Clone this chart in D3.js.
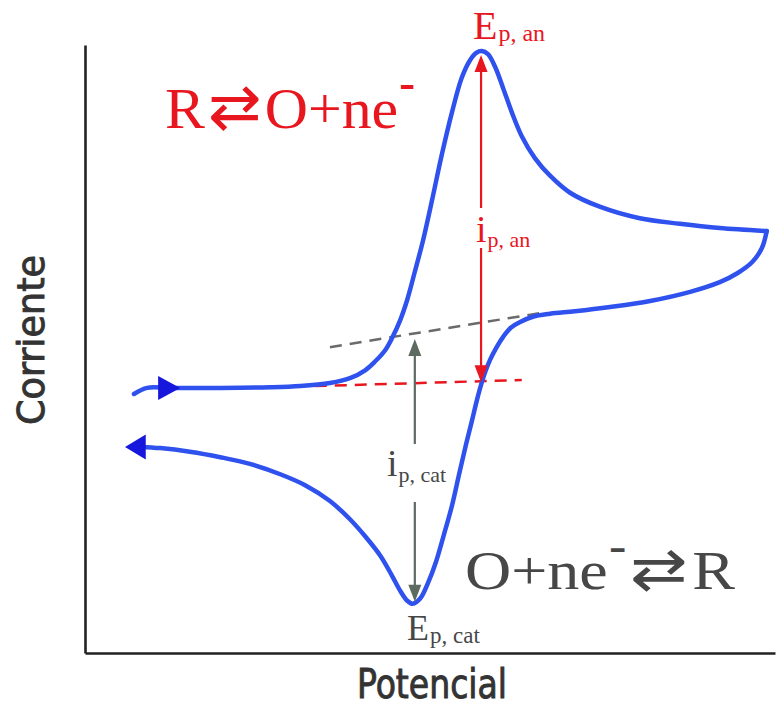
<!DOCTYPE html>
<html>
<head>
<meta charset="utf-8">
<script src="https://cdn.jsdelivr.net/npm/d3@7"></script>
<style>
  html, body { margin: 0; padding: 0; background: #fff; }
  svg { display: block; }
</style>
</head>
<body>
<svg id="chart" width="779" height="708"></svg>
<script>
// Cyclic voltammogram of a reversible couple R ⇄ O + ne⁻
// Potential in V, current in µA (arbitrary reference).

// Forward (anodic) scan
const potencialFwd = [-0.329, -0.310, -0.277, -0.204, -0.132, -0.088, -0.045, -0.016, 0.006, 0.020,
  0.035, 0.045, 0.057, 0.067, 0.078, 0.090, 0.103, 0.117, 0.132, 0.146,
  0.158, 0.167, 0.175, 0.184, 0.194, 0.206, 0.219, 0.233, 0.252, 0.274,
  0.303, 0.346, 0.404, 0.462, 0.520, 0.588];
const corrienteFwd = [2.6, 3.6, 3.6, 3.6, 3.7, 3.9, 4.4, 5.2, 6.5, 7.9,
  9.8, 11.8, 14.8, 18.1, 22.7, 27.9, 34.5, 41.9, 49.0, 54.6,
  57.5, 58.7, 59.0, 58.5, 56.5, 52.9, 48.8, 45.0, 41.4, 38.5,
  35.7, 33.4, 31.5, 30.6, 29.9, 29.4];

// Reverse (cathodic) scan
const potencialRev = [0.588, 0.581, 0.567, 0.546, 0.520, 0.477, 0.419, 0.361, 0.310, 0.274,
  0.249, 0.230, 0.217, 0.206, 0.196, 0.187, 0.180, 0.174, 0.168, 0.161,
  0.152, 0.142, 0.132, 0.120, 0.109, 0.097, 0.086, 0.075, 0.067, 0.057,
  0.045, 0.028, 0.006, -0.016, -0.045, -0.081, -0.117, -0.161, -0.204, -0.248,
  -0.291, -0.320];
const corrienteRev = [29.4, 26.6, 24.3, 22.5, 21.0, 19.4, 17.9, 16.9, 16.2, 15.8,
  15.3, 14.4, 13.5, 12.0, 10.2, 8.2, 6.2, 4.1, 1.6, -1.7,
  -5.8, -10.7, -15.7, -20.6, -24.9, -28.5, -31.0, -31.9, -31.4, -29.8,
  -27.3, -24.0, -20.8, -18.0, -15.0, -12.4, -10.6, -8.9, -7.8, -6.9,
  -6.3, -6.1];

// Scan-direction arrowheads: [tip potential, base potential, current]
const flechaFwd = [-0.262, -0.294, 3.6];
const flechaRev = [-0.342, -0.312, -6.1];

// Extrapolated baselines used to measure the peak currents
const baseCatE = [-0.045, 0.259];
const baseCatI = [10.3, 15.9];
const baseAnE  = [-0.067, 0.233];
const baseAnI  = [3.9, 4.9];

// Peak markers: potential, peak current, baseline current
const picoAn  = { E: 0.174, ip: 59.0, base: 4.7 };
const picoCat = { E: 0.078, ip: -31.9, base: 11.8 };

const svg = d3.select("#chart");
const x = d3.scaleLinear().domain([-0.4, 0.6]).range([85, 775]);
const y = d3.scaleLinear().domain([-40, 60]).range([653, 45]);

const BLUE = "#2f52ee", BLUE_DARK = "#1616dc", RED = "#e8161e",
      GREY_TXT = "#474747", GREY_ARROW = "#5d6a60", GREY_DASH = "#6a6a6a";

// Axes without ticks
svg.append("g").attr("transform", `translate(${x.range()[0]},0)`)
  .call(d3.axisLeft(y).ticks(0).tickSizeOuter(0))
  .select(".domain").attr("stroke", "#222").attr("stroke-width", 2.6);
svg.append("g").attr("transform", `translate(0,${y.range()[0]})`)
  .call(d3.axisBottom(x).ticks(0).tickSizeOuter(0))
  .select(".domain").attr("stroke", "#222").attr("stroke-width", 2.6);

// Axis titles
svg.append("text")
  .attr("transform", "translate(44,340) rotate(-90)")
  .attr("text-anchor", "middle")
  .attr("font-family", "DejaVu Sans Condensed, DejaVu Sans")
  .attr("font-size", 38)
  .attr("fill", "#333").attr("stroke", "#333").attr("stroke-width", 0.9)
  .attr("textLength", 170).attr("lengthAdjust", "spacingAndGlyphs")
  .text("Corriente");
svg.append("text")
  .attr("x", 432).attr("y", 698)
  .attr("text-anchor", "middle")
  .attr("font-family", "DejaVu Sans Condensed, DejaVu Sans")
  .attr("font-size", 40)
  .attr("fill", "#333").attr("stroke", "#333").attr("stroke-width", 0.9)
  .attr("textLength", 150).attr("lengthAdjust", "spacingAndGlyphs")
  .text("Potencial");

// Baselines
const seg = (E, I) => d3.line()([[x(E[0]), y(I[0])], [x(E[1]), y(I[1])]]);
svg.append("path").attr("d", seg(baseCatE, baseCatI))
  .attr("stroke", GREY_DASH).attr("stroke-width", 2.5).attr("fill", "none")
  .attr("stroke-dasharray", "12,8");
svg.append("path").attr("d", seg(baseAnE, baseAnI))
  .attr("stroke", RED).attr("stroke-width", 2.5).attr("fill", "none")
  .attr("stroke-dasharray", "12,8");

// Voltammogram
const line = d3.line().x(d => x(d[0])).y(d => y(d[1])).curve(d3.curveCatmullRom.alpha(0.5));
const fwd = potencialFwd.map((e, i) => [e, corrienteFwd[i]]);
const rev = potencialRev.map((e, i) => [e, corrienteRev[i]]);
[fwd, rev].forEach(pts => {
  svg.append("path").attr("d", line(pts))
    .attr("fill", "none").attr("stroke", BLUE).attr("stroke-width", 4.5)
    .attr("stroke-linecap", "round").attr("stroke-linejoin", "miter");
});

// Scan direction arrowheads
function headH(tipE, baseE, I, half, color) {
  const xt = x(tipE), xb = x(baseE), yy = y(I);
  svg.append("path")
    .attr("d", `M${xt},${yy}L${xb},${yy - half}L${xb},${yy + half}Z`)
    .attr("fill", color);
}
headH(flechaFwd[0], flechaFwd[1], flechaFwd[2], 12, BLUE_DARK);
headH(flechaRev[0], flechaRev[1], flechaRev[2], 12.5, BLUE_DARK);

// Vertical peak-current arrows with a gap for the label
function vArrow(E, yTip1, yTip2, gapTop, gapBot, color) {
  const xx = x(E);
  const g = svg.append("g");
  const head = 17, half = 6.5;
  g.append("line").attr("x1", xx).attr("x2", xx).attr("y1", yTip1 + head - 2).attr("y2", gapTop)
    .attr("stroke", color).attr("stroke-width", 2.2);
  g.append("line").attr("x1", xx).attr("x2", xx).attr("y1", gapBot).attr("y2", yTip2 - head + 2)
    .attr("stroke", color).attr("stroke-width", 2.2);
  g.append("path").attr("d", `M${xx},${yTip1}L${xx - half},${yTip1 + head}L${xx + half},${yTip1 + head}Z`).attr("fill", color);
  g.append("path").attr("d", `M${xx},${yTip2}L${xx - half},${yTip2 - head}L${xx + half},${yTip2 - head}Z`).attr("fill", color);
}
vArrow(picoAn.E, y(picoAn.ip) + 4, y(picoAn.base) + 1, 208, 248, RED);
vArrow(picoCat.E, y(picoCat.base) + 1, y(picoCat.ip) - 2, 444, 502, GREY_ARROW);

// Labels with subscripts
function subLabel(px, py, main, sub, size, subSize, color, dy) {
  const t = svg.append("text").attr("x", px).attr("y", py)
    .attr("font-family", "Liberation Serif, Times New Roman, serif")
    .attr("fill", color);
  t.append("tspan").attr("font-size", size).text(main);
  t.append("tspan").attr("font-size", subSize).attr("dy", dy).attr("dx", 1).text(sub);
  return t;
}
subLabel(473, 39, "E", "p, an", 40, 24, RED, 2);
subLabel(407, 640, "E", "p, cat", 36, 23, GREY_TXT, 3);
subLabel(476, 242, "i", "p, an", 38, 22, RED, 5);
subLabel(387, 476, "i", "p, cat", 38, 22, GREY_TXT, 6);

// Half reactions
function reaction(px, py, parts, size, color, width) {
  const t = svg.append("text").attr("x", px).attr("y", py)
    .attr("font-family", "Liberation Serif, Times New Roman, serif")
    .attr("font-size", size).attr("fill", color);
  parts.forEach(p => {
    const s = t.append("tspan").text(p.t);
    if (p.dy) s.attr("dy", p.dy);
    if (p.fs) s.attr("font-size", p.fs);
    if (p.fw) s.attr("font-weight", p.fw);
    if (p.ff) s.attr("font-family", p.ff);
    if (p.dx) s.attr("dx", p.dx);
  });
  if (width) t.attr("textLength", width).attr("lengthAdjust", "spacingAndGlyphs");
  return t;
}
reaction(165, 128, [
  { t: "R" },
  { t: "⇄", ff: "DejaVu Sans", fs: 62, dx: 3 },
  { t: "O+ne", dx: 3 },
  { t: "-", fs: 46, fw: "bold", dy: -30, dx: 1 },
], 58, RED, 250);
reaction(465, 589, [
  { t: "O+ne" },
  { t: "-", fs: 44, fw: "bold", dy: -28, dx: 1 },
  { t: "⇄", ff: "DejaVu Sans", fs: 58, dy: 28, dx: 3 },
  { t: "R", dx: 4 },
], 54, GREY_TXT, 270);
</script>
</body>
</html>
